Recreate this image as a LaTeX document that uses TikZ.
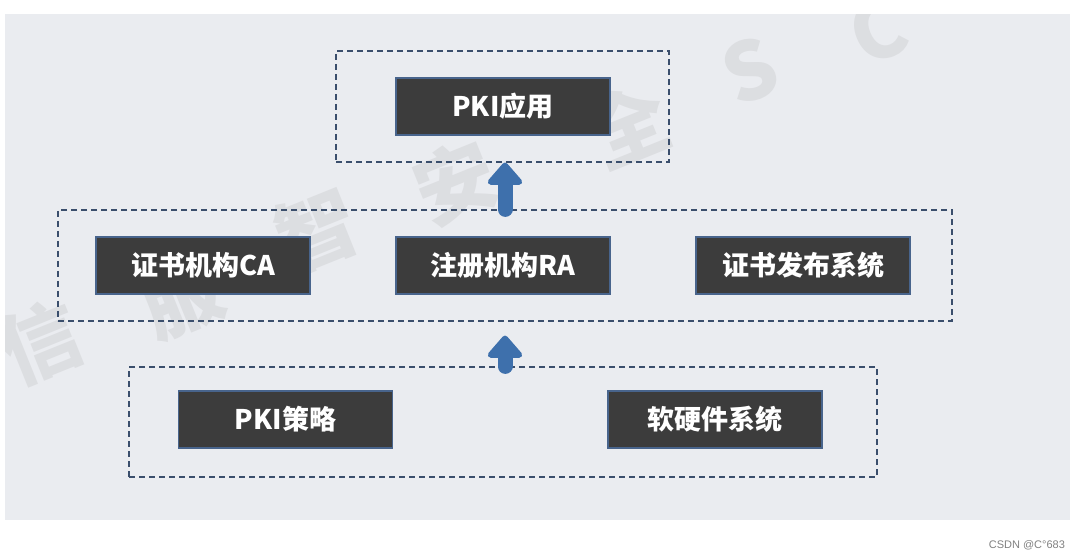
\documentclass[tikz,border=0pt]{standalone}
\usepackage{fontspec}
\setmainfont{Noto Sans CJK SC}
\newfontfamily\latinsans{Liberation Sans}
\usetikzlibrary{arrows.meta,positioning,calc}
\definecolor{bgPanel}{RGB}{234,236,240}
\definecolor{boxFill}{RGB}{60,60,60}
\definecolor{boxEdge}{RGB}{72,100,140}
\definecolor{dashEdge}{RGB}{58,78,108}
\definecolor{arrowBlue}{RGB}{62,112,172}
\begin{document}
\begin{tikzpicture}[x=0.5pt, y=-0.5pt,
    darkbox/.style={draw=boxEdge, line width=0.6pt, fill=boxFill, text=white,
      font=\fontsize{13.5}{15}\selectfont\bfseries,
      minimum width=107pt, minimum height=28.5pt, inner sep=0pt},
    grpbox/.style={draw=dashEdge, line width=0.6pt, dash pattern=on 3pt off 2pt,
      inner sep=0pt},
    uparrow/.style={arrowBlue, line width=7.5pt, line cap=round,
      -{Triangle[round, length=12pt, width=20pt]}}]
    \useasboundingbox (0,0) rectangle (1089,557);
    % --- panel and watermark ---
    \fill[bgPanel] (5,14) rectangle (1070,520);
    \begin{scope}
      \clip (5,14) rectangle (1070,520);
      \foreach \ch/\px/\py in {信/40/342, 服/182/298, 智/317/230, 安/455/182, 全/628/125, S/750/70, C/878/30}
        \node[gray!70, opacity=0.2, rotate=22, font=\fontsize{40}{40}\selectfont\bfseries]
          (wm\px) at (\px,\py) {\ch};
    \end{scope}
    % --- dashed groups ---
    \node[grpbox, minimum width=166.5pt, minimum height=55.5pt] (topgrp) at (502.5,106.5) {};
    \node[grpbox, minimum width=447pt, minimum height=55.5pt] (midgrp) at (505,265.5) {};
    \node[grpbox, minimum width=374pt, minimum height=55pt] (lowgrp) at (503,422) {};
    % --- boxes ---
    \node[darkbox] (app) at (503,106.5) {PKI应用};
    \node[darkbox] (ca) at (203,265.5) {证书机构CA};
    \node[darkbox] (ra) at (503,265.5) {注册机构RA};
    \node[darkbox] (pub) at (803,265.5) {证书发布系统};
    \node[darkbox] (policy) at (285.5,419.5) {PKI策略};
    \node[darkbox] (hwsw) at (715,419.5) {软硬件系统};
    % --- arrows between the layers ---
    \draw[uparrow] (midgrp.north) -- (topgrp.south -| midgrp.north);
    \draw[uparrow, shorten >=7pt] (lowgrp.north -| midgrp.south) -- (midgrp.south);
    % --- credit ---
    \node[gray, font=\latinsans\fontsize{5.5}{6}\selectfont, anchor=east] (credit) at (1072,545) {CSDN @C°683};
\end{tikzpicture}
\end{document}
